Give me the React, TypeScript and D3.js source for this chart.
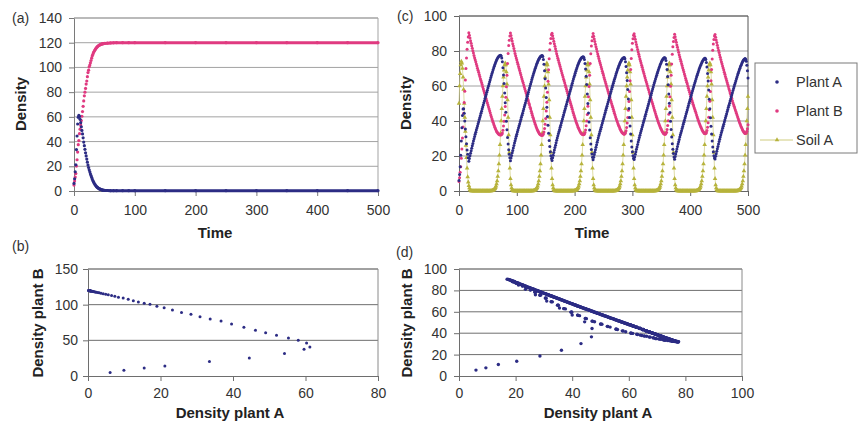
import React, { useEffect, useRef } from 'react';
import * as d3 from 'd3';

// (a) / (b): run where plant B excludes plant A
const aTime = [
  0, 1, 2, 3, 4, 5, 6, 7, 8, 9, 10, 11, 12, 13, 14, 15, 16, 17, 18, 19, 20, 21, 22, 23, 24, 25,
  26, 27, 28, 29, 30, 31, 32, 33, 34, 35, 36, 37, 38, 39, 40, 41, 42, 43, 44, 45, 46, 47, 48, 49, 50,
  55, 60, 65, 70, 80, 90, 100, 150, 200, 250, 300, 350, 400, 450, 500
];
const aPlantA = [
  6.1, 9.9, 15.5, 21.2, 33.5, 44.5, 54.2, 59.6, 61.2, 60.3, 58, 55.3, 52, 49, 46.2, 43, 39.6, 36.7,
  33.7, 30.9, 28.4, 25.8, 23.3, 21, 19, 17.1, 15.5, 13.9, 12.5, 11.1, 9.7, 8.4, 7.4, 6.5, 5.6, 4.9,
  4.2, 3.6, 3.1, 2.7, 2.3, 2, 1.7, 1.5, 1.3, 1.1, 0.9, 0.8, 0.7, 0.6, 0.5,
  0.4, 0.3, 0.3, 0.3, 0.3, 0.3, 0.3, 0.3, 0.3, 0.3, 0.3, 0.3, 0.3, 0.3, 0.3
];
const aPlantB = [
  4.8, 8, 11.3, 14.1, 20.2, 25.3, 31.5, 37.5, 40.8, 46.4, 50, 53.4, 57, 60.5, 64.3, 68.5, 72.9, 77,
  80, 83, 86.5, 89, 92.5, 95.8, 97.8, 100.5, 101.9, 103.7, 105.6, 107.5, 109.3, 110.5, 111.9, 112.9,
  113.8, 114.6, 115.4, 116, 116.6, 117, 117.5, 117.8, 118.1, 118.4, 118.6, 118.8, 119, 119.1, 119.2,
  119.3, 119.4,
  119.6, 119.8, 119.9, 120, 120, 120, 120, 120, 120, 120, 120, 120, 120, 120, 120
];

// (c) / (d): cycling run, one value per time step 0..500
const cPlantA = [
  6, 9.5, 13.9, 20.4, 28.6, 36.2, 43.1, 46.8, 47, 44.4, 40, 35.5, 31, 27, 23.5, 21, 19,
  17, 18.6, 20.1, 21.6, 23, 24.4, 25.8, 27.2, 28.6, 29.9, 31.2, 32.4, 33.6, 34.8, 36, 37.2, 38.4, 39.6,
  40.8, 42, 43.2, 44.4, 45.6, 46.8, 48, 49.2, 50.4, 51.6, 52.8, 54, 55.2, 56.4, 57.6, 58.8, 60, 61.2,
  62.4, 63.6, 64.8, 66, 67.1, 68.2, 69.3, 70.3, 71.3, 72.3, 73.2, 74, 74.8, 75.5, 76.1, 76.6, 77, 77.3,
  77.5, 77.6, 77.2, 76, 73.8, 70.5, 66.3, 61.4, 56, 50.5, 45, 39.8, 35, 30.6, 26.8, 23.6, 21, 19,
  17.3, 18.8, 20.3, 21.8, 23.2, 24.6, 26, 27.4, 28.7, 30, 31.3, 32.5, 33.7, 34.9, 36.1, 37.3, 38.5, 39.7,
  40.9, 42.1, 43.3, 44.5, 45.7, 46.9, 48.1, 49.3, 50.5, 51.7, 52.9, 54.1, 55.3, 56.5, 57.7, 58.9, 60.1,
  61.3, 62.5, 63.7, 64.9, 66, 67.1, 68.2, 69.2, 70.2, 71.2, 72.1, 73, 73.8, 74.6, 75.3, 75.9, 76.4, 76.8,
  77.1, 77.3, 77.4, 76.9, 75.2, 72.4, 68.7, 64.1, 58.9, 53.4, 47.9, 42.6, 37.6, 33, 28.9, 25.4, 22.5,
  20.2, 18.6,
  17.5, 19, 20.5, 22, 23.4, 24.8, 26.2, 27.6, 29, 30.3, 31.6, 32.8, 34, 35.2, 36.4, 37.6, 38.8, 40, 41.2,
  42.4, 43.6, 44.8, 46, 47.2, 48.4, 49.6, 50.8, 52, 53.2, 54.4, 55.6, 56.8, 58, 59.2, 60.4, 61.6, 62.8,
  64, 65.1, 66.2, 67.3, 68.4, 69.4, 70.4, 71.4, 72.3, 73.1, 73.9, 74.6, 75.2, 75.7, 76.1, 76.4, 76.6,
  76.7, 76.3, 75.1, 72.9, 69.7, 65.6, 60.8, 55.5, 50, 44.6, 39.5, 34.8, 30.5, 26.8, 23.7, 21.2, 19.3,
  17.8, 19.3, 20.8, 22.2, 23.6, 25, 26.4, 27.8, 29.1, 30.4, 31.7, 32.9, 34.1, 35.3, 36.5, 37.7, 38.9,
  40.1, 41.3, 42.5, 43.7, 44.9, 46.1, 47.3, 48.5, 49.7, 50.9, 52.1, 53.3, 54.5, 55.7, 56.9, 58.1, 59.3,
  60.5, 61.6, 62.7, 63.8, 64.9, 66, 67.1, 68.1, 69.1, 70.1, 71, 71.9, 72.7, 73.5, 74.2, 74.8, 75.3, 75.7,
  76, 76.2, 76.3, 75.6, 73.9, 71.2, 67.6, 63.1, 58, 52.6, 47.2, 42, 37.1, 32.6, 28.6, 25.2, 22.4, 20.2,
  18.7,
  18, 19.5, 21, 22.4, 23.8, 25.2, 26.6, 28, 29.3, 30.6, 31.9, 33.1, 34.3, 35.5, 36.7, 37.9, 39.1, 40.3,
  41.5, 42.7, 43.9, 45.1, 46.3, 47.5, 48.7, 49.9, 51.1, 52.3, 53.5, 54.7, 55.9, 57.1, 58.3, 59.5, 60.7,
  61.8, 62.9, 64, 65.1, 66.2, 67.3, 68.3, 69.3, 70.3, 71.2, 72.1, 72.9, 73.7, 74.4, 75, 75.5, 75.9, 76.1,
  76.2, 75.8, 74.6, 72.5, 69.4, 65.4, 60.7, 55.5, 50.1, 44.8, 39.8, 35.1, 30.8, 27, 23.9, 21.4, 19.5,
  18.2, 19.7, 21.2, 22.6, 24, 25.4, 26.8, 28.2, 29.5, 30.8, 32.1, 33.3, 34.5, 35.7, 36.9, 38.1, 39.3,
  40.5, 41.7, 42.9, 44.1, 45.3, 46.5, 47.7, 48.9, 50.1, 51.3, 52.5, 53.7, 54.9, 56.1, 57.3, 58.5, 59.6,
  60.7, 61.8, 62.9, 64, 65.1, 66.2, 67.2, 68.2, 69.2, 70.1, 71, 71.8, 72.6, 73.3, 74, 74.6, 75.1, 75.5,
  75.8, 75.9, 75.2, 73.5, 70.8, 67.2, 62.8, 57.7, 52.4, 47, 41.9, 37, 32.6, 28.6, 25.2, 22.4, 20.2, 18.8,
  18.3, 19.8, 21.3, 22.7, 24.1, 25.5, 26.9, 28.3, 29.6, 30.9, 32.2, 33.4, 34.6, 35.8, 37, 38.2, 39.4,
  40.6, 41.8, 43, 44.2, 45.4, 46.6, 47.8, 49, 50.2, 51.4, 52.6, 53.8, 55, 56.2, 57.4, 58.6, 59.7, 60.8,
  61.9, 63, 64.1, 65.2, 66.3, 67.3, 68.3, 69.3, 70.2, 71.1, 71.9, 72.7, 73.4, 74.1, 74.7, 75.2, 75.5,
  75.7, 75.3, 74.1, 71.9, 68.7, 64.6
];
const cPlantB = [
  5.5, 7.6, 10.7, 13.8, 18.7, 24, 30.3, 36.6, 44.4, 50.6, 57, 63.5, 70, 76, 81, 85, 88,
  90.5, 89, 87.4, 85.9, 84.4, 83, 81.6, 80.2, 78.8, 77.5, 76.2, 75, 73.8, 72.6, 71.4, 70.2, 69, 67.8,
  66.6, 65.4, 64.2, 63.1, 62, 60.8, 59.6, 58.5, 57.3, 56.2, 55, 53.9, 52.7, 51.6, 50.4, 49.3, 48.1, 47,
  45.8, 44.7, 43.5, 42.4, 41.3, 40.3, 39.3, 38.3, 37.4, 36.5, 35.6, 34.9, 34.2, 33.6, 33.1, 32.7, 32.4,
  32.2, 32.1, 32, 32.1, 32.4, 33.2, 34.7, 37.1, 39.8, 43.5, 48.3, 53.6, 59.6, 66.2, 72.9, 78.6, 83.2,
  86.2, 88.6,
  90.3, 88.8, 87.2, 85.7, 84.2, 82.8, 81.4, 80, 78.6, 77.3, 76, 74.8, 73.6, 72.4, 71.2, 70, 68.8, 67.6,
  66.4, 65.2, 64, 62.9, 61.8, 60.6, 59.4, 58.3, 57.1, 56, 54.8, 53.7, 52.5, 51.4, 50.2, 49.1, 47.9, 46.8,
  45.6, 44.5, 43.3, 42.2, 41.1, 40.1, 39.1, 38.1, 37.2, 36.3, 35.4, 34.7, 34, 33.4, 32.9, 32.5, 32.2, 32,
  31.9, 31.8, 32, 32.6, 33.7, 35.7, 38.2, 41.4, 45.7, 50.7, 56.4, 62.7, 69.3, 75.6, 80.7, 84.5, 87.2, 89.3,
  90.2, 88.7, 87.1, 85.6, 84.1, 82.7, 81.3, 79.9, 78.5, 77.2, 75.9, 74.7, 73.5, 72.3, 71.1, 69.9, 68.7,
  67.5, 66.3, 65.1, 63.9, 62.8, 61.7, 60.5, 59.3, 58.2, 57, 55.9, 54.7, 53.6, 52.4, 51.3, 50.1, 49, 47.8,
  46.7, 45.5, 44.4, 43.3, 42.2, 41.2, 40.2, 39.2, 38.3, 37.4, 36.5, 35.7, 35, 34.3, 33.7, 33.2, 32.8,
  32.5, 32.3, 32.2, 32.3, 32.6, 33.4, 34.9, 37.3, 40, 43.7, 48.5, 53.8, 59.7, 66.2, 72.8, 78.4, 82.9,
  85.9, 88.2,
  90, 88.5, 86.9, 85.4, 83.9, 82.5, 81.1, 79.7, 78.3, 77, 75.7, 74.5, 73.3, 72.1, 70.9, 69.7, 68.5, 67.3,
  66.1, 64.9, 63.7, 62.6, 61.5, 60.3, 59.1, 58, 56.8, 55.7, 54.5, 53.4, 52.2, 51.1, 50, 48.9, 47.8, 46.7,
  45.6, 44.5, 43.4, 42.3, 41.3, 40.3, 39.4, 38.5, 37.6, 36.8, 36, 35.3, 34.6, 34, 33.5, 33.1, 32.8, 32.6,
  32.5, 32.8, 33.3, 34.4, 36.3, 38.8, 42, 46.2, 51.2, 56.8, 63, 69.5, 75.7, 80.7, 84.4, 87, 89,
  89.8, 88.3, 86.7, 85.2, 83.7, 82.3, 80.9, 79.5, 78.1, 76.8, 75.5, 74.3, 73.1, 71.9, 70.7, 69.5, 68.3,
  67.1, 65.9, 64.7, 63.5, 62.4, 61.3, 60.1, 58.9, 57.8, 56.6, 55.5, 54.3, 53.2, 52, 50.9, 49.8, 48.7,
  47.6, 46.5, 45.4, 44.3, 43.2, 42.1, 41.1, 40.1, 39.2, 38.3, 37.4, 36.6, 35.8, 35.1, 34.4, 33.8, 33.3,
  32.9, 32.6, 32.4, 32.5, 32.8, 33.6, 35.1, 37.5, 40.2, 43.9, 48.6, 53.9, 59.8, 66.2, 72.6, 78.1, 82.5,
  85.4, 87.7,
  89.6, 88.1, 86.5, 85, 83.5, 82.1, 80.7, 79.3, 77.9, 76.6, 75.3, 74.1, 72.9, 71.7, 70.5, 69.3, 68.1,
  66.9, 65.7, 64.5, 63.3, 62.2, 61.1, 59.9, 58.7, 57.6, 56.4, 55.3, 54.1, 53, 51.8, 50.7, 49.6, 48.6,
  47.6, 46.6, 45.6, 44.6, 43.5, 42.4, 41.4, 40.4, 39.5, 38.6, 37.7, 36.9, 36.1, 35.4, 34.7, 34.1, 33.6,
  33.2, 32.9, 32.7, 33, 33.5, 34.6, 36.5, 39, 42.2, 46.4, 51.3, 56.9, 63, 69.4, 75.5, 80.4, 84, 86.6, 88.6,
  89.4, 87.9, 86.3, 84.8, 83.3, 81.9, 80.5, 79.1, 77.7, 76.4, 75.1, 73.9, 72.7, 71.5, 70.3, 69.1, 67.9,
  66.7, 65.5, 64.3, 63.1, 62, 60.9, 59.7, 58.5, 57.4, 56.2, 55.1, 53.9, 52.8, 51.6, 50.5, 49.4, 48.4,
  47.4, 46.4, 45.4, 44.4, 43.4, 42.4, 41.4, 40.4, 39.5, 38.6, 37.7, 36.9, 36.1, 35.4, 34.7, 34.1, 33.6,
  33.2, 32.9, 33, 33.3, 34.1, 35.6, 37.9
];
// ten values per row: t = 0-9, 10-19, ... 490-499, then t = 500
const cSoilA = [
  50, 60, 67, 72, 74, 73, 70, 65, 58, 50,
  42, 34, 26, 19, 13, 8, 5, 3, 1.7, 0.8,
  0.3, 0.1, 0, 0, 0, 0, 0, 0, 0, 0,
  0, 0, 0, 0, 0, 0, 0, 0, 0, 0,
  0, 0, 0, 0, 0, 0, 0, 0, 0, 0,
  0, 0, 0, 0, 0, 0, 0, 0.2, 0.3, 0.4,
  0.6, 0.9, 1.3, 1.9, 2.8, 4, 5.8, 8.3, 11.5, 15.5,
  20.5, 26.5, 33, 40, 47, 54, 60, 65, 69, 72,
  73, 72, 68, 61, 52, 42, 32, 22, 13, 7,
  3.5, 1.7, 0.8, 0.3, 0, 0, 0, 0, 0, 0,
  0, 0, 0, 0, 0, 0, 0, 0, 0, 0,
  0, 0, 0, 0, 0, 0, 0, 0, 0, 0,
  0, 0, 0, 0, 0, 0, 0, 0, 0, 0.2,
  0.3, 0.4, 0.6, 0.9, 1.3, 1.9, 2.8, 4, 5.8, 8.3,
  11.5, 15.5, 20.5, 26.5, 33, 40, 47, 54, 60, 65,
  69, 72, 73, 72, 68, 61, 52, 42, 32, 22,
  13, 7, 3.5, 1.7, 0.8, 0.3, 0, 0, 0, 0,
  0, 0, 0, 0, 0, 0, 0, 0, 0, 0,
  0, 0, 0, 0, 0, 0, 0, 0, 0, 0,
  0, 0, 0, 0, 0, 0, 0, 0, 0, 0,
  0.2, 0.3, 0.4, 0.6, 0.9, 1.3, 1.9, 2.8, 4, 5.8,
  8.3, 11.5, 15.5, 20.5, 26.5, 33, 40, 47, 54, 60,
  65, 69, 72, 73, 72, 68, 61, 52, 42, 32,
  22, 13, 7, 3.5, 1.7, 0.8, 0.3, 0, 0, 0,
  0, 0, 0, 0, 0, 0, 0, 0, 0, 0,
  0, 0, 0, 0, 0, 0, 0, 0, 0, 0,
  0, 0, 0, 0, 0, 0, 0, 0, 0, 0,
  0, 0.2, 0.3, 0.4, 0.6, 0.9, 1.3, 1.9, 2.8, 4,
  5.8, 8.3, 11.5, 15.5, 20.5, 26.5, 33, 40, 47, 54,
  60, 65, 69, 72, 73, 72, 68, 61, 52, 42,
  32, 22, 13, 7, 3.5, 1.7, 0.8, 0.3, 0, 0,
  0, 0, 0, 0, 0, 0, 0, 0, 0, 0,
  0, 0, 0, 0, 0, 0, 0, 0, 0, 0,
  0, 0, 0, 0, 0, 0, 0, 0, 0, 0,
  0, 0.2, 0.3, 0.4, 0.6, 0.9, 1.3, 1.9, 2.8, 4,
  5.8, 8.3, 11.5, 15.5, 20.5, 26.5, 33, 40, 47, 54,
  60, 65, 69, 72, 73, 72, 68, 61, 52, 42,
  32, 22, 13, 7, 3.5, 1.7, 0.8, 0.3, 0, 0,
  0, 0, 0, 0, 0, 0, 0, 0, 0, 0,
  0, 0, 0, 0, 0, 0, 0, 0, 0, 0,
  0, 0, 0, 0, 0, 0, 0, 0, 0, 0,
  0, 0.2, 0.3, 0.4, 0.6, 0.9, 1.3, 1.9, 2.8, 4,
  5.8, 8.3, 11.5, 15.5, 20.5, 26.5, 33, 40, 47, 54,
  60, 65, 69, 72, 73, 72, 68, 61, 52, 42,
  32, 22, 13, 7, 3.5, 1.7, 0.8, 0.3, 0, 0,
  0, 0, 0, 0, 0, 0, 0, 0, 0, 0,
  0, 0, 0, 0, 0, 0, 0, 0, 0, 0,
  0, 0, 0, 0, 0, 0, 0, 0, 0, 0,
  0, 0, 0.2, 0.3, 0.4, 0.6, 0.9, 1.3, 1.9, 2.8,
  4, 5.8, 8.3, 11.5, 15.5, 20.5, 26.5, 33, 40, 47,
  54
];

const legendLabels = ['Plant A', 'Plant B', 'Soil A'];

const NAVY = '#2c2c84';
const PINK = '#e03a80';
const OLIVE = '#b7b33c';
const FONT = '"Liberation Sans", Arial, Helvetica, sans-serif';

function drawFrame(svg, o) {
  const x = d3.scaleLinear().domain([0, o.xMax]).range([o.left, o.right]);
  const y = d3.scaleLinear().domain([0, o.yMax]).range([o.bottom, o.top]);
  const g = svg.append('g');

  g.selectAll('line.grid')
    .data(d3.range(o.yStep, o.yMax + 0.001, o.yStep))
    .enter().append('line')
    .attr('x1', o.left).attr('x2', o.right)
    .attr('y1', (d) => y(d)).attr('y2', (d) => y(d))
    .attr('stroke', o.grid).attr('stroke-width', 1);

  g.append('line')
    .attr('x1', o.right).attr('x2', o.right).attr('y1', o.top).attr('y2', o.bottom)
    .attr('stroke', o.border).attr('stroke-width', 1);
  g.append('line')
    .attr('x1', o.left).attr('x2', o.right).attr('y1', o.top).attr('y2', o.top)
    .attr('stroke', o.border).attr('stroke-width', 1);

  const yAxis = d3.axisLeft(y)
    .tickValues(d3.range(0, o.yMax + 0.001, o.yStep))
    .tickSize(5).tickSizeOuter(0).tickPadding(o.yPad);
  const xAxis = d3.axisBottom(x)
    .tickValues(d3.range(0, o.xMax + 0.001, o.xStep))
    .tickSize(5).tickSizeOuter(0).tickPadding(o.xPad);

  const ya = g.append('g').attr('transform', `translate(${o.left},0)`).call(yAxis);
  const xa = g.append('g').attr('transform', `translate(0,${o.bottom})`).call(xAxis);
  [ya, xa].forEach((a) => {
    a.select('.domain').attr('stroke', o.axis);
    a.selectAll('.tick line').attr('stroke', o.axis);
    a.selectAll('.tick text')
      .attr('fill', '#333').style('font-size', '14px').style('font-family', FONT);
  });
  return { x, y };
}

function label(svg, text, x, y, opts = {}) {
  const t = svg.append('text')
    .attr('x', x).attr('y', y)
    .attr('fill', opts.bold ? '#222' : '#333')
    .attr('text-anchor', opts.anchor || 'start')
    .style('font-family', FONT)
    .style('font-size', (opts.size || 14) + 'px')
    .style('font-weight', opts.bold ? 'bold' : 'normal')
    .text(text);
  if (opts.rotate) {
    t.attr('dominant-baseline', 'central').attr('transform', `rotate(-90,${x},${y})`);
  }
  return t;
}

const App = () => {
  const ref = useRef(null);

  useEffect(() => {
    const svg = d3.select(ref.current);
    svg.selectAll('*').remove();

    // ---------- (a)
    const fa = drawFrame(svg, {
      left: 74, right: 378, top: 18, bottom: 191, xMax: 500, xStep: 100, yMax: 140, yStep: 20,
      grid: '#a3a3a3', border: '#a3a3a3', axis: '#7a7a7a', yPad: 7, xPad: 9
    });
    const aData = aTime.map((t, i) => ({ t, a: aPlantA[i], b: aPlantB[i] }));
    const tail = aData.filter((d) => d.t >= 50);
    svg.append('path').datum(tail)
      .attr('d', d3.line().x((d) => fa.x(d.t)).y((d) => fa.y(d.b)))
      .attr('fill', 'none').attr('stroke', PINK).attr('stroke-width', 3);
    svg.append('path').datum(tail)
      .attr('d', d3.line().x((d) => fa.x(d.t)).y((d) => fa.y(d.a)))
      .attr('fill', 'none').attr('stroke', NAVY).attr('stroke-width', 3);
    svg.append('g').selectAll('circle').data(aData).enter().append('circle')
      .attr('cx', (d) => fa.x(d.t)).attr('cy', (d) => fa.y(d.b)).attr('r', 1.6).attr('fill', PINK);
    svg.append('g').selectAll('circle').data(aData).enter().append('circle')
      .attr('cx', (d) => fa.x(d.t)).attr('cy', (d) => fa.y(d.a)).attr('r', 1.6).attr('fill', NAVY);
    label(svg, '(a)', 12, 23);
    label(svg, 'Time', 215, 238, { bold: true, size: 15, anchor: 'middle' });
    label(svg, 'Density', 20, 104, { bold: true, size: 15, anchor: 'middle', rotate: true });

    // ---------- (b)
    const fb = drawFrame(svg, {
      left: 88, right: 378, top: 269, bottom: 376, xMax: 80, xStep: 20, yMax: 150, yStep: 50,
      grid: '#6e6e6e', border: '#8a8a8a', axis: '#6e6e6e', yPad: 5, xPad: 7
    });
    svg.append('g').selectAll('circle').data(aData).enter().append('circle')
      .attr('cx', (d) => fb.x(d.a)).attr('cy', (d) => fb.y(d.b)).attr('r', 1.5).attr('fill', NAVY);
    label(svg, '(b)', 12, 251);
    label(svg, 'Density plant A', 230, 418, { bold: true, size: 15, anchor: 'middle' });
    label(svg, 'Density plant B', 37, 323, { bold: true, size: 15, anchor: 'middle', rotate: true });

    // ---------- (c)
    const fc = drawFrame(svg, {
      left: 459, right: 748, top: 16, bottom: 191, xMax: 500, xStep: 100, yMax: 100, yStep: 20,
      grid: '#a0a0a0', border: '#555', axis: '#666', yPad: 7, xPad: 9
    });
    const n = Math.min(cPlantA.length, cPlantB.length, cSoilA.length);
    const cData = d3.range(n).map((t) => ({ t, a: cPlantA[t], b: cPlantB[t], s: cSoilA[t] }));
    svg.append('path').datum(cData)
      .attr('d', d3.line().x((d) => fc.x(d.t)).y((d) => fc.y(d.s)))
      .attr('fill', 'none').attr('stroke', '#d6d38e').attr('stroke-width', 0.8);
    const tri = d3.symbol().type(d3.symbolTriangle).size(9);
    svg.append('g').selectAll('path').data(cData).enter().append('path')
      .attr('d', tri)
      .attr('transform', (d) => `translate(${fc.x(d.t)},${fc.y(d.s)})`)
      .attr('fill', OLIVE);
    svg.append('g').selectAll('circle').data(cData).enter().append('circle')
      .attr('cx', (d) => fc.x(d.t)).attr('cy', (d) => fc.y(d.b)).attr('r', 1.5).attr('fill', PINK);
    svg.append('g').selectAll('circle').data(cData).enter().append('circle')
      .attr('cx', (d) => fc.x(d.t)).attr('cy', (d) => fc.y(d.a)).attr('r', 1.5).attr('fill', NAVY);
    label(svg, '(c)', 397, 21);
    label(svg, 'Time', 592, 238, { bold: true, size: 15, anchor: 'middle' });
    label(svg, 'Density', 405, 103, { bold: true, size: 15, anchor: 'middle', rotate: true });

    // legend
    const lg = svg.append('g');
    lg.append('rect').attr('x', 755).attr('y', 63).attr('width', 102).attr('height', 90)
      .attr('fill', '#fff').attr('stroke', '#7a7a7a');
    const ly = d3.scalePoint().domain(legendLabels).range([82, 140]);
    lg.append('circle').attr('cx', 777).attr('cy', ly('Plant A')).attr('r', 1.8).attr('fill', NAVY);
    lg.append('circle').attr('cx', 777).attr('cy', ly('Plant B')).attr('r', 1.8).attr('fill', PINK);
    lg.append('line').attr('x1', 760).attr('x2', 793)
      .attr('y1', ly('Soil A')).attr('y2', ly('Soil A')).attr('stroke', '#cfcc7e');
    lg.append('path').attr('d', tri).attr('transform', `translate(777,${ly('Soil A')})`).attr('fill', OLIVE);
    legendLabels.forEach((l) => label(lg, l, 796, ly(l) + 5, { size: 14.5 }));

    // ---------- (d)
    const fd = drawFrame(svg, {
      left: 459, right: 742, top: 269, bottom: 376, xMax: 100, xStep: 20, yMax: 100, yStep: 20,
      grid: '#6e6e6e', border: '#8a8a8a', axis: '#6e6e6e', yPad: 7, xPad: 7
    });
    svg.append('g').selectAll('circle').data(cData).enter().append('circle')
      .attr('cx', (d) => fd.x(d.a)).attr('cy', (d) => fd.y(d.b)).attr('r', 1.7).attr('fill', NAVY);
    label(svg, '(d)', 396, 257);
    label(svg, 'Density plant A', 598, 418, { bold: true, size: 15, anchor: 'middle' });
    label(svg, 'Density plant B', 406, 323, { bold: true, size: 15, anchor: 'middle', rotate: true });
  }, []);

  return (
    <svg
      ref={ref}
      width={859}
      height={423}
      style={{ position: 'absolute', left: 0, top: 0, background: '#fff' }}
    />
  );
};

export default App;
